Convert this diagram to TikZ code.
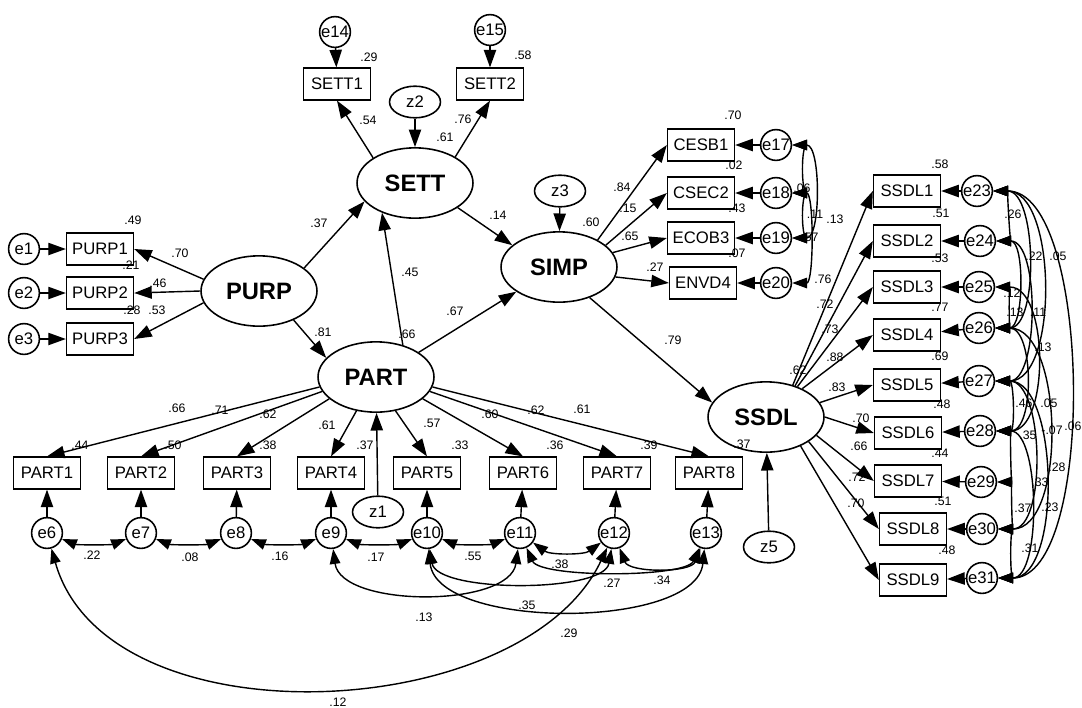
\documentclass[tikz,border=0pt]{standalone}
\usepackage{fontspec}
\setmainfont{Liberation Sans}
\usetikzlibrary{arrows.meta,shapes.geometric}

\begin{document}
\begin{tikzpicture}[x=0.02cm,y=-0.02cm,
  obs/.style={draw,line width=0.9pt,minimum width=38pt,minimum height=18pt,inner sep=1pt,font=\fontsize{9.5}{11}\selectfont},
  lat/.style={draw,ellipse,line width=0.9pt,minimum width=66pt,minimum height=40pt,inner sep=0pt,font=\fontsize{13.5}{16}\selectfont\bfseries},
  err/.style={draw,circle,line width=0.9pt,minimum size=17.5pt,inner sep=0pt,font=\fontsize{9.5}{11}\selectfont},
  dis/.style={draw,ellipse,line width=0.9pt,minimum width=29pt,minimum height=18pt,inner sep=0pt,font=\fontsize{9.5}{11}\selectfont},
  val/.style={inner sep=0pt,font=\fontsize{7}{8}\selectfont},
  reg/.style={line width=0.8pt,-{Triangle[length=10pt,width=7pt]}},
  cov/.style={line width=0.8pt,{Triangle[length=8.5pt,width=6pt]}-{Triangle[length=8.5pt,width=6pt]}}]
  \useasboundingbox (0,0) rectangle (1082,707);

  \node[lat] (PURP) at (259,291) {PURP};
  \node[lat] (SETT) at (415,183) {SETT};
  \node[lat] (SIMP) at (559,267) {SIMP};
  \node[lat] (PART) at (376,377) {PART};
  \node[lat] (SSDL) at (766,417) {SSDL};
  \node[dis] (z1) at (378,512) {z1};
  \node[dis] (z2) at (415,102) {z2};
  \node[dis] (z3) at (560,191) {z3};
  \node[dis] (z5) at (769,547) {z5};

  \node[obs] (PURP1) at (100,249) {PURP1};
  \node[obs] (PURP2) at (100,293) {PURP2};
  \node[obs] (PURP3) at (100,339) {PURP3};
  \node[err] (e1) at (24,249) {e1};
  \node[err] (e2) at (24,293) {e2};
  \node[err] (e3) at (24,339) {e3};

  \node[obs] (SETT1) at (337,84) {SETT1};
  \node[obs] (SETT2) at (490,84) {SETT2};
  \node[err] (e14) at (335,32) {e14};
  \node[err] (e15) at (490,30) {e15};

  \node[obs] (CESB1) at (701,145) {CESB1};
  \node[obs] (CSEC2) at (701,193) {CSEC2};
  \node[obs] (ECOB3) at (701,238) {ECOB3};
  \node[obs] (ENVD4) at (703,283) {ENVD4};
  \node[err] (e17) at (776,145) {e17};
  \node[err] (e18) at (776,193) {e18};
  \node[err] (e19) at (776,238) {e19};
  \node[err] (e20) at (776,283) {e20};

  \node[obs] (SSDL1) at (907,191) {SSDL1};
  \node[obs] (SSDL2) at (907,241) {SSDL2};
  \node[obs] (SSDL3) at (907,287) {SSDL3};
  \node[obs] (SSDL4) at (907,335) {SSDL4};
  \node[obs] (SSDL5) at (907,385) {SSDL5};
  \node[obs] (SSDL6) at (908,433) {SSDL6};
  \node[obs] (SSDL7) at (908,481) {SSDL7};
  \node[obs] (SSDL8) at (913,529) {SSDL8};
  \node[obs] (SSDL9) at (913,580) {SSDL9};
  \node[err] (e23) at (977,191) {e23};
  \node[err] (e24) at (980,241) {e24};
  \node[err] (e25) at (979,287) {e25};
  \node[err] (e26) at (979,328) {e26};
  \node[err] (e27) at (979,381) {e27};
  \node[err] (e28) at (980,431) {e28};
  \node[err] (e29) at (981,482) {e29};
  \node[err] (e30) at (982,529) {e30};
  \node[err] (e31) at (982,578) {e31};

  \node[obs] (PART1) at (47,473) {PART1};
  \node[obs] (PART2) at (141,473) {PART2};
  \node[obs] (PART3) at (237,473) {PART3};
  \node[obs] (PART4) at (331,473) {PART4};
  \node[obs] (PART5) at (427,473) {PART5};
  \node[obs] (PART6) at (523,473) {PART6};
  \node[obs] (PART7) at (617,473) {PART7};
  \node[obs] (PART8) at (709,473) {PART8};
  \node[err] (e6) at (47,533) {e6};
  \node[err] (e7) at (141,533) {e7};
  \node[err] (e8) at (236,533) {e8};
  \node[err] (e9) at (331,533) {e9};
  \node[err] (e10) at (427,533) {e10};
  \node[err] (e11) at (520,533) {e11};
  \node[err] (e12) at (614,533) {e12};
  \node[err] (e13) at (706,533) {e13};

  \draw[reg] (PURP.27) -- (SETT.200);
  \draw[reg] (PURP.-40) -- (PART.159);
  \draw[reg] (PART.50) -- (SETT.222);
  \draw[reg] (SETT.-30) -- (SIMP.155);
  \draw[reg] (PART.30) -- (SIMP.210);
  \draw[reg] (SIMP.-45) -- (SSDL.165);
  \draw[reg] (z1) -- (PART);
  \draw[reg] (z2) -- (SETT);
  \draw[reg] (z3) -- (SIMP);
  \draw[reg] (z5) -- (SSDL);

  \draw[reg] (PURP.168) -- (PURP1.east);
  \draw[reg] (PURP.180) -- (PURP2.east);
  \draw[reg] (PURP.192) -- (PURP3.east);
  \draw[reg] (e1) -- (PURP1);
  \draw[reg] (e2) -- (PURP2);
  \draw[reg] (e3) -- (PURP3);

  \draw[reg] (SETT.149) -- (SETT1.south);
  \draw[reg] (SETT.33) -- (SETT2.south);
  \draw[reg] (e14) -- (SETT1);
  \draw[reg] (e15) -- (SETT2);

  \draw[reg] (SIMP.35) -- (CESB1.west);
  \draw[reg] (SIMP.25) -- (CSEC2.west);
  \draw[reg] (SIMP.15) -- (ECOB3.west);
  \draw[reg] (SIMP.-10) -- (ENVD4.west);
  \draw[reg] (e17) -- (CESB1);
  \draw[reg] (e18) -- (CSEC2);
  \draw[reg] (e19) -- (ECOB3);
  \draw[reg] (e20) -- (ENVD4);

  \draw[reg] (SSDL.50) -- (SSDL1.west);
  \draw[reg] (SSDL.47) -- (SSDL2.west);
  \draw[reg] (SSDL.44) -- (SSDL3.west);
  \draw[reg] (SSDL.38) -- (SSDL4.west);
  \draw[reg] (SSDL.15) -- (SSDL5.west);
  \draw[reg] (SSDL.0) -- (SSDL6.west);
  \draw[reg] (SSDL.-20) -- (SSDL7.west);
  \draw[reg] (SSDL.-30) -- (SSDL8.west);
  \draw[reg] (SSDL.-40) -- (SSDL9.west);
  \draw[reg] (e23) -- (SSDL1);
  \draw[reg] (e24) -- (SSDL2);
  \draw[reg] (e25) -- (SSDL3);
  \draw[reg] (e26) -- (SSDL4);
  \draw[reg] (e27) -- (SSDL5);
  \draw[reg] (e28) -- (SSDL6);
  \draw[reg] (e29) -- (SSDL7);
  \draw[reg] (e30) -- (SSDL8);
  \draw[reg] (e31) -- (SSDL9);

  \draw[reg] (PART.190) -- (PART1.north);
  \draw[reg] (PART.195) -- (PART2.north);
  \draw[reg] (PART.205) -- (PART3.north);
  \draw[reg] (PART.240) -- (PART4.north);
  \draw[reg] (PART.300) -- (PART5.north);
  \draw[reg] (PART.335) -- (PART6.north);
  \draw[reg] (PART.345) -- (PART7.north);
  \draw[reg] (PART.350) -- (PART8.north);
  \draw[reg] (e6) -- (PART1);
  \draw[reg] (e7) -- (PART2);
  \draw[reg] (e8) -- (PART3);
  \draw[reg] (e9) -- (PART4);
  \draw[reg] (e10) -- (PART5);
  \draw[reg] (e11) -- (PART6);
  \draw[reg] (e12) -- (PART7);
  \draw[reg] (e13) -- (PART8);

  \draw[cov] (e6) .. controls +(30,12) and +(-30,12) .. (e7);
  \draw[cov] (e7) .. controls +(30,12) and +(-30,12) .. (e8);
  \draw[cov] (e8) .. controls +(30,12) and +(-30,12) .. (e9);
  \draw[cov] (e9) .. controls +(30,12) and +(-30,12) .. (e10);
  \draw[cov] (e10) .. controls +(30,12) and +(-30,12) .. (e11);
  \draw[cov] (e11) .. controls +(30,22) and +(-30,22) .. (e12);
  \draw[cov] (e11) .. controls +(20,45) and +(-20,45) .. (e13);
  \draw[cov] (e12) .. controls +(15,40) and +(-15,40) .. (e13);
  \draw[cov] (e9) .. controls +(10,75) and +(-10,75) .. (e11);
  \draw[cov] (e10) .. controls +(10,60) and +(-10,60) .. (e12);
  \draw[cov] (e10) .. controls +(10,97) and +(-10,97) .. (e13);
  \draw[cov] (e6) .. controls +(60,212) and +(-90,192) .. (e12);

  \draw[cov] (e17) .. controls +(25,0) and +(25,0) .. (e18);
  \draw[cov] (e18) .. controls +(25,0) and +(25,0) .. (e19);
  \draw[cov] (e17) .. controls +(45,0) and +(45,0) .. (e19);
  \draw[cov] (e18) .. controls +(38,0) and +(38,0) .. (e20);

  \draw[cov] (e23) .. controls +(30,0) and +(30,0) .. (e24);
  \draw[cov] (e23) .. controls +(60,0) and +(60,0) .. (e26);
  \draw[cov] (e23) .. controls +(80,0) and +(80,0) .. (e27);
  \draw[cov] (e25) .. controls +(30,0) and +(30,0) .. (e26);
  \draw[cov] (e24) .. controls +(45,0) and +(45,0) .. (e26);
  \draw[cov] (e24) .. controls +(60,0) and +(60,0) .. (e27);
  \draw[cov] (e25) .. controls +(70,0) and +(70,0) .. (e28);
  \draw[cov] (e27) .. controls +(35,0) and +(35,0) .. (e28);
  \draw[cov] (e26) .. controls +(55,0) and +(55,0) .. (e28);
  \draw[cov] (e26) .. controls +(85,0) and +(85,0) .. (e30);
  \draw[cov] (e23) .. controls +(115,0) and +(115,0) .. (e31);
  \draw[cov] (e28) .. controls +(30,0) and +(30,0) .. (e29);
  \draw[cov] (e27) .. controls +(80,0) and +(80,0) .. (e31);
  \draw[cov] (e27) .. controls +(65,0) and +(65,0) .. (e30);
  \draw[cov] (e28) .. controls +(60,0) and +(60,0) .. (e31);
  \draw[cov] (e29) .. controls +(30,0) and +(30,0) .. (e30);
  \draw[cov] (e30) .. controls +(28,0) and +(28,0) .. (e31);

  \node[val] (rPURP1) at (133,220) {.49};
  \node[val] (rPURP2) at (131,265) {.21};
  \node[val] (rPURP3) at (132,310) {.28};
  \node[val] (lPURP1) at (180,253) {.70};
  \node[val] (lPURP2) at (158,283) {.46};
  \node[val] (lPURP3) at (157,310) {.53};
  \node[val] (bSETT) at (319,223) {.37};
  \node[val] (bPART) at (323,332) {.81};
  \node[val] (rSETT1) at (369,57) {.29};
  \node[val] (rSETT2) at (523,55) {.58};
  \node[val] (lSETT1) at (368,120) {.54};
  \node[val] (lSETT2) at (463,119) {.76};
  \node[val] (rSETT) at (445,137) {.61};
  \node[val] (bSETTPART) at (410,272) {.45};
  \node[val] (bSIMPSETT) at (498,215) {.14};
  \node[val] (bSIMPPART) at (455,311) {.67};
  \node[val] (rPART) at (407,334) {.66};
  \node[val] (rSIMP) at (591,222) {.60};
  \node[val] (bSSDL) at (673,340) {.79};
  \node[val] (lCESB1) at (622,187) {.84};
  \node[val] (lCSEC2) at (628,208) {.15};
  \node[val] (lECOB3) at (630,236) {.65};
  \node[val] (lENVD4) at (655,267) {.27};
  \node[val] (rCESB1) at (733,115) {.70};
  \node[val] (rCSEC2) at (734,165) {.02};
  \node[val] (rECOB3) at (737,208) {.43};
  \node[val] (rENVD4) at (737,253) {.07};
  \node[val] (c1718) at (802,188) {.06};
  \node[val] (c1819) at (815,214) {.11};
  \node[val] (c1719) at (835,219) {.13};
  \node[val] (c1820) at (810,237) {.57};

  \node[val] (rSSDL) at (798,370) {.62};
  \node[val] (lSSDL1) at (823,279) {.76};
  \node[val] (lSSDL2) at (825,304) {.72};
  \node[val] (lSSDL3) at (830,329) {.73};
  \node[val] (lSSDL4) at (835,357) {.88};
  \node[val] (lSSDL5) at (837,387) {.83};
  \node[val] (lSSDL6) at (861,418) {.70};
  \node[val] (lSSDL7) at (859,446) {.66};
  \node[val] (lSSDL8) at (857,477) {.72};
  \node[val] (lSSDL9) at (856,503) {.70};
  \node[val] (rSSDL1) at (940,164) {.58};
  \node[val] (rSSDL2) at (941,213) {.51};
  \node[val] (rSSDL3) at (940,258) {.53};
  \node[val] (rSSDL4) at (940,307) {.77};
  \node[val] (rSSDL5) at (940,356) {.69};
  \node[val] (rSSDL6) at (942,404) {.48};
  \node[val] (rSSDL7) at (940,453) {.44};
  \node[val] (rSSDL8) at (943,501) {.51};
  \node[val] (rSSDL9) at (947,550) {.48};
  \node[val] (c2324) at (1013,214) {.26};
  \node[val] (c2326) at (1034,256) {.22};
  \node[val] (c2327) at (1058,256) {.05};
  \node[val] (c2526) at (1012,293) {.12};
  \node[val] (c2426) at (1015,312) {.13};
  \node[val] (c2427) at (1038,312) {.11};
  \node[val] (c2528) at (1043,347) {.13};
  \node[val] (c2728) at (1024,403) {.46};
  \node[val] (c2628) at (1049,403) {.05};
  \node[val] (c2630) at (1052,430) {-.07};
  \node[val] (c2331) at (1073,426) {.06};
  \node[val] (c2829) at (1028,435) {.35};
  \node[val] (c2731) at (1057,467) {.28};
  \node[val] (c2730) at (1040,482) {.33};
  \node[val] (c2831) at (1050,507) {.23};
  \node[val] (c2930) at (1023,508) {.37};
  \node[val] (c3031) at (1030,548) {.31};

  \node[val] (lPART1) at (177,408) {.66};
  \node[val] (lPART2) at (220,410) {.71};
  \node[val] (lPART3) at (268,414) {.62};
  \node[val] (lPART4) at (327,425) {.61};
  \node[val] (lPART5) at (432,423) {.57};
  \node[val] (lPART6) at (490,414) {.60};
  \node[val] (lPART7) at (536,410) {.62};
  \node[val] (lPART8) at (582,409) {.61};
  \node[val] (rPART1) at (80,445) {.44};
  \node[val] (rPART2) at (173,445) {.50};
  \node[val] (rPART3) at (268,445) {.38};
  \node[val] (rPART4) at (365,445) {.37};
  \node[val] (rPART5) at (460,445) {.33};
  \node[val] (rPART6) at (555,445) {.36};
  \node[val] (rPART7) at (649,445) {.39};
  \node[val] (rPART8) at (742,444) {.37};
  \node[val] (c0607) at (92,555) {.22};
  \node[val] (c0708) at (190,557) {.08};
  \node[val] (c0809) at (280,556) {.16};
  \node[val] (c0910) at (376,557) {.17};
  \node[val] (c1011) at (473,556) {.55};
  \node[val] (c1112) at (560,564) {.38};
  \node[val] (c1113) at (612,583) {.27};
  \node[val] (c1213) at (662,580) {.34};
  \node[val] (c0911) at (424,617) {.13};
  \node[val] (c1012) at (527,605) {.35};
  \node[val] (c1013) at (569,633) {.29};
  \node[val] (c0612) at (338,702) {.12};
\end{tikzpicture}
\end{document}
